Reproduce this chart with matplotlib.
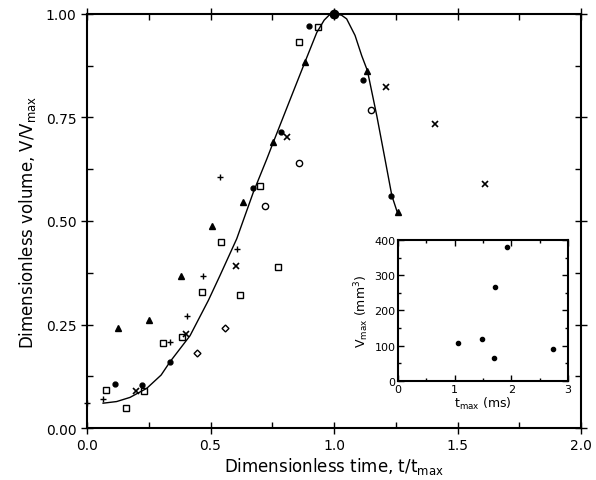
import matplotlib
matplotlib.use('Agg')
from matplotlib import pyplot as plt
from matplotlib.ticker import MultipleLocator

# ---- data ----
# fitted curve
curva_t = [0.065, 0.12, 0.174, 0.242, 0.30, 0.336, 0.417, 0.491, 0.538, 0.606, 0.673,
           0.728, 0.754, 0.82, 0.883, 0.93, 0.96, 0.98, 1.0, 1.03, 1.051, 1.085, 1.112,
           1.135, 1.173, 1.206, 1.234, 1.256]
curva_v = [0.060, 0.064, 0.074, 0.096, 0.128, 0.160, 0.223, 0.308, 0.368, 0.457, 0.569,
           0.650, 0.690, 0.790, 0.885, 0.955, 0.985, 0.997, 1.0, 0.997, 0.988, 0.948, 0.899,
           0.863, 0.754, 0.650, 0.561, 0.521]

# quadrados abertos
quad_t = [0.077, 0.157, 0.231, 0.309, 0.383, 0.466, 0.543, 0.619, 0.700, 0.772, 0.857, 0.934, 1.0]
quad_v = [0.092, 0.048, 0.090, 0.205, 0.219, 0.329, 0.449, 0.321, 0.585, 0.388, 0.933, 0.969, 1.0]

# circulos cheios
circ_t = [0.113, 0.223, 0.336, 0.673, 0.785, 0.899, 1.0, 1.119, 1.231]
circ_v = [0.106, 0.104, 0.160, 0.579, 0.716, 0.972, 1.0, 0.841, 0.561]

# circulos abertos
oabr_t = [0.721, 0.858, 1.0, 1.150]
oabr_v = [0.535, 0.640, 1.0, 0.768]

# losangos abertos
los_t = [0.447, 0.559]
los_v = [0.181, 0.242]

# triangulos
tri_t = [0.127, 0.252, 0.379, 0.506, 0.633, 0.754, 0.883, 1.0, 1.132, 1.258]
tri_v = [0.241, 0.260, 0.368, 0.489, 0.545, 0.690, 0.885, 1.0, 0.861, 0.521]

# cruzes +
mais_t = [0.0, 0.066, 0.336, 0.403, 0.471, 0.538, 0.606, 1.0]
mais_v = [0.060, 0.070, 0.207, 0.270, 0.368, 0.607, 0.432, 1.0]

# cruzes x
xis_t = [0.198, 0.401, 0.603, 0.808, 1.0, 1.209, 1.410, 1.609]
xis_v = [0.090, 0.227, 0.391, 0.702, 1.0, 0.823, 0.733, 0.589]

# inset: t_max (ms) x V_max (mm3)
tmax = [1.05, 1.48, 1.69, 1.71, 1.92, 2.73]
vmax = [107, 119, 65, 267, 381, 90]

plt.rcParams['font.family'] = 'DejaVu Sans'

fig = plt.figure(figsize=(5.96, 4.81), dpi=100)
ax = fig.add_axes([0.146, 0.108, 0.829, 0.861])

ax.plot(curva_t, curva_v, color='black', lw=1.0)
ax.plot(quad_t, quad_v, 's', mfc='none', mec='black', ms=4.5, mew=1.0)
ax.plot(circ_t, circ_v, 'o', mfc='black', mec='black', ms=3.5)
ax.plot(oabr_t, oabr_v, 'o', mfc='none', mec='black', ms=4.5, mew=1.0)
ax.plot(los_t, los_v, 'D', mfc='none', mec='black', ms=3.5, mew=1.0)
ax.plot(tri_t, tri_v, '^', mfc='black', mec='black', ms=4.5)
ax.plot(mais_t, mais_v, '+', color='black', ms=5, mew=1.0, clip_on=False)
ax.plot(xis_t, xis_v, 'x', color='black', ms=5, mew=1.2)
ax.plot([1.0], [1.0], 'o', color='black', ms=6, clip_on=False)

ax.set_xlim(0, 2.0)
ax.set_ylim(0, 1.0)
ax.xaxis.set_minor_locator(MultipleLocator(0.25))
ax.yaxis.set_minor_locator(MultipleLocator(0.125))
ax.set_xticks([0, 0.5, 1.0, 1.5, 2.0])
ax.set_xticklabels(['0.0', '0.5', '1.0', '1.5', '2.0'])
ax.set_yticks([0, 0.25, 0.5, 0.75, 1.0])
ax.set_yticklabels(['0.00', '0.25', '0.50', '0.75', '1.00'])
ax.tick_params(which='major', direction='inout', length=8, width=1.0, labelsize=10,
               top=True, right=True)
ax.tick_params(which='minor', direction='in', length=4, width=1.0, top=True, right=True)
for s in ax.spines.values():
    s.set_linewidth(1.5)
ax.set_xlabel(r'Dimensionless time, t/t$_\mathregular{max}$', fontsize=12, labelpad=2)
ax.set_ylabel(r'Dimensionless volume, V/V$_\mathregular{max}$', fontsize=12, labelpad=6)

# inset
ax2 = fig.add_axes([0.668, 0.206, 0.285, 0.293])
ax2.plot(tmax, vmax, 'o', color='black', ms=3)
ax2.set_xlim(0, 3)
ax2.set_ylim(0, 400)
ax2.xaxis.set_major_locator(MultipleLocator(1))
ax2.xaxis.set_minor_locator(MultipleLocator(0.5))
ax2.yaxis.set_major_locator(MultipleLocator(100))
ax2.yaxis.set_minor_locator(MultipleLocator(50))
ax2.tick_params(which='both', direction='in', top=True, right=True, width=1.0)
ax2.tick_params(which='major', length=4, labelsize=8, pad=2)
ax2.tick_params(which='minor', length=2)
for s in ax2.spines.values():
    s.set_linewidth(1.5)
ax2.set_xlabel(r't$_\mathregular{max}$ (ms)', fontsize=9, labelpad=1)
ax2.set_ylabel(r'V$_\mathregular{max}$ (mm$^\mathregular{3}$)', fontsize=9, labelpad=2)

fig.savefig('out.png', dpi=100)
